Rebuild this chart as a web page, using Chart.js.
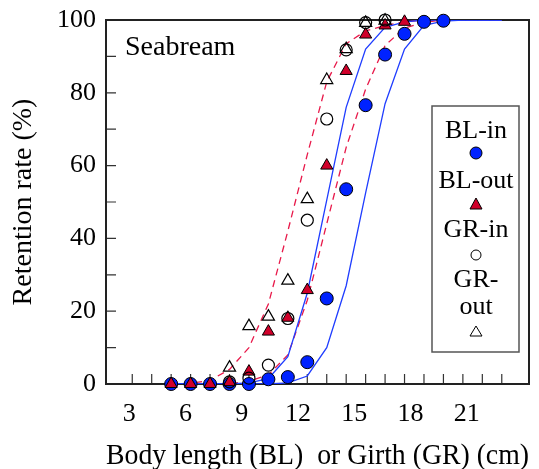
<!DOCTYPE html>
<html>
<head>
<meta charset="utf-8">
<script src="https://cdn.jsdelivr.net/npm/chart.js@4"></script>
<style>
  body { margin: 0; background: #fff; }
  #wrap { width: 539px; height: 469px; position: relative; }
</style>
</head>
<body>
<div id="wrap"><canvas id="retentionChart"></canvas></div>
<script>
// measured points (x = length / girth in cm, y = retention %)
const blInX = [5, 6, 7, 8, 9, 10, 11, 12, 13, 14, 15, 16, 17, 18, 19];
const blIn = [0, 0, 0, 0, 0, 1.3, 1.9, 6, 23.5, 53.5, 76.6, 90.5, 96.2, 99.5, 99.8];
const blOutX = [5, 6, 7, 8, 9, 10, 11, 12, 13, 14, 15, 16, 17];
const blOut = [0, 0, 0, 0.5, 3.4, 14.4, 18.2, 25.8, 60, 86, 96, 98.5, 99.5];
const grInX = [8, 9, 10, 11, 12, 13, 14, 15, 16];
const grIn = [0.6, 1.6, 5.2, 18, 45, 72.8, 91.8, 99.3, 100];
const grOutX = [8, 9, 10, 11, 12, 13, 14, 15, 16];
const grOut = [4.5, 15.9, 18.5, 28.4, 50.8, 83.5, 92, 99.2, 99.8];

// fitted curves
const fitX = [5, 6, 7, 8, 9, 10, 11, 12, 13, 14, 15, 16, 17, 18, 19, 20, 21, 22];
const blueFit1 = [0, 0, 0, 0, 0.3, 1.5, 7.5, 25, 50.5, 76, 92, 98, 99.5, 100, 100, 100, 100, 100];
const blueFit2 = [0, 0, 0, 0, 0, 0, 0.3, 2.2, 10, 27, 52.5, 77, 92, 98.5, 99.7, 100, 100, 100];
const redFit1 = [0, 0.2, 1, 4, 10, 22, 42, 63, 83, 93.5, 97, 98.5, 99.5, 100, 100, 100, 100, 100];
const redFit2 = [0, 0, 0, 0, 0.8, 2.5, 8, 23, 44, 65, 81, 93, 97.8, 99.4, 100, 100, 100, 100];

const xTickLabels = [3, 6, 9, 12, 15, 18, 21];
const yTickLabels = [0, 20, 40, 60, 80, 100];

const SERIF = "'Liberation Serif', 'Times New Roman', serif";
Chart.defaults.font.family = SERIF;
Chart.defaults.color = "#000";

function pts(xs, ys) {
	return xs.map((x, i) => ({ x: x, y: ys[i] }));
}

function fitLine(ys, color, dashed) {
	return {
		data: pts(fitX, ys),
		showLine: true,
		borderColor: color,
		borderWidth: 1.3,
		borderDash: dashed ? [7, 5] : [],
		pointRadius: 0,
		order: 10,
	};
}

// inward tick marks, frame, panel label and the boxed legend
const decorations = {
	id: "decorations",
	beforeDatasetsDraw(chart) {
		const { ctx, chartArea: a } = chart;
		const xs = chart.scales.x;
		const ys = chart.scales.y;
		ctx.save();
		ctx.strokeStyle = "#333";
		ctx.lineWidth = 1.2;
		ctx.beginPath();
		for (let v = 3; v <= 22; v++) {
			const px = xs.getPixelForValue(v);
			ctx.moveTo(px, a.bottom);
			ctx.lineTo(px, a.bottom - 10);
		}
		for (let v = 10; v < 100; v += 10) {
			const py = ys.getPixelForValue(v);
			ctx.moveTo(a.left, py);
			ctx.lineTo(a.left + 10, py);
		}
		ctx.stroke();
		ctx.lineWidth = 2;
		ctx.strokeStyle = "#222";
		ctx.strokeRect(a.left, a.top, a.right - a.left, a.bottom - a.top);

		ctx.fillStyle = "#000";
		ctx.font = "28px " + SERIF;
		ctx.textBaseline = "alphabetic";
		ctx.textAlign = "left";
		ctx.fillText("Seabream", 125, 55);
		ctx.restore();
	},
	afterDraw(chart) {
		const { ctx } = chart;
		ctx.save();
		ctx.strokeStyle = "#555";
		ctx.lineWidth = 1.5;
		ctx.strokeRect(432, 106, 87, 246);
		ctx.fillStyle = "#000";
		ctx.font = "26px " + SERIF;
		ctx.textAlign = "center";
		ctx.textBaseline = "middle";
		const cx = 476;
		ctx.fillText("BL-in", cx, 131);
		ctx.fillText("BL-out", cx, 181);
		ctx.fillText("GR-in", cx, 230);
		ctx.fillText("GR-", cx, 280);
		ctx.fillText("out", cx, 307);
		ctx.lineWidth = 1;
		// blue dot
		ctx.beginPath();
		ctx.arc(cx, 153, 6, 0, Math.PI * 2);
		ctx.fillStyle = "#0022ff";
		ctx.fill();
		ctx.strokeStyle = "#000";
		ctx.stroke();
		// red triangle
		ctx.beginPath();
		ctx.moveTo(cx, 198);
		ctx.lineTo(cx + 6, 209);
		ctx.lineTo(cx - 6, 209);
		ctx.closePath();
		ctx.fillStyle = "#d0002a";
		ctx.fill();
		ctx.stroke();
		// open circle
		ctx.beginPath();
		ctx.arc(cx, 255, 5, 0, Math.PI * 2);
		ctx.stroke();
		// open triangle
		ctx.beginPath();
		ctx.moveTo(cx, 326);
		ctx.lineTo(cx + 6, 336);
		ctx.lineTo(cx - 6, 336);
		ctx.closePath();
		ctx.stroke();
		ctx.restore();
	},
};

new Chart(document.getElementById("retentionChart"), {
	type: "scatter",
	data: {
		datasets: [
			fitLine(blueFit1, "#1f3dff", false),
			fitLine(blueFit2, "#1f3dff", false),
			fitLine(redFit1, "#e8194a", true),
			fitLine(redFit2, "#e8194a", true),
			{
				label: "BL-in",
				data: pts(blInX, blIn),
				pointStyle: "circle",
				pointRadius: 6.5,
				backgroundColor: "#0022ff",
				borderColor: "#000",
				borderWidth: 1,
				clip: false,
				order: 4,
			},
			{
				label: "BL-out",
				data: pts(blOutX, blOut),
				pointStyle: "triangle",
				pointRadius: 7,
				backgroundColor: "#d0002a",
				borderColor: "#000",
				borderWidth: 1,
				clip: false,
				order: 3,
			},
			{
				label: "GR-in",
				data: pts(grInX, grIn),
				pointStyle: "circle",
				pointRadius: 6,
				backgroundColor: "rgba(255,255,255,0)",
				borderColor: "#000",
				borderWidth: 1.2,
				clip: false,
				order: 2,
			},
			{
				label: "GR-out",
				data: pts(grOutX, grOut),
				pointStyle: "triangle",
				pointRadius: 7,
				backgroundColor: "rgba(255,255,255,0)",
				borderColor: "#000",
				borderWidth: 1.2,
				clip: false,
				order: 1,
			},
		],
	},
	options: {
		responsive: true,
		maintainAspectRatio: false,
		animation: false,
		layout: { padding: { top: 20, right: 10, left: 0, bottom: 0 } },
		plugins: {
			legend: { display: false },
			tooltip: { enabled: false },
		},
		scales: {
			x: {
				type: "linear",
				min: 1.65,
				max: 23.4,
				display: false,
			},
			xLabels: {
				type: "linear",
				position: "bottom",
				min: 1.76,
				max: 24.32,
				afterBuildTicks: (scale) => {
					scale.ticks = xTickLabels.map((v) => ({ value: v }));
				},
				afterFit: (scale) => {
					scale.height = 85;
					scale.paddingLeft = 0;
					scale.paddingRight = 0;
				},
				grid: { display: false, drawTicks: false },
				border: { display: false },
				ticks: { font: { size: 26 }, padding: 15, maxRotation: 0, autoSkip: false },
				title: {
					display: true,
					text: "Body length (BL)  or Girth (GR) (cm)",
					font: { size: 29, lineHeight: 1 },
					padding: { top: 0, bottom: -2 },
				},
			},
			y: {
				min: 0,
				max: 100,
				afterBuildTicks: (scale) => {
					scale.ticks = yTickLabels.map((v) => ({ value: v }));
				},
				afterFit: (scale) => {
					scale.width = 106;
					scale.paddingTop = 0;
					scale.paddingBottom = 0;
				},
				grid: { display: false, drawTicks: false },
				border: { display: false },
				ticks: { font: { size: 26 }, padding: 10 },
				title: {
					display: true,
					text: "Retention rate (%)",
					font: { size: 28, lineHeight: 1 },
					padding: { top: 10, bottom: 0 },
				},
			},
		},
	},
	plugins: [decorations],
});
</script>
</body>
</html>
